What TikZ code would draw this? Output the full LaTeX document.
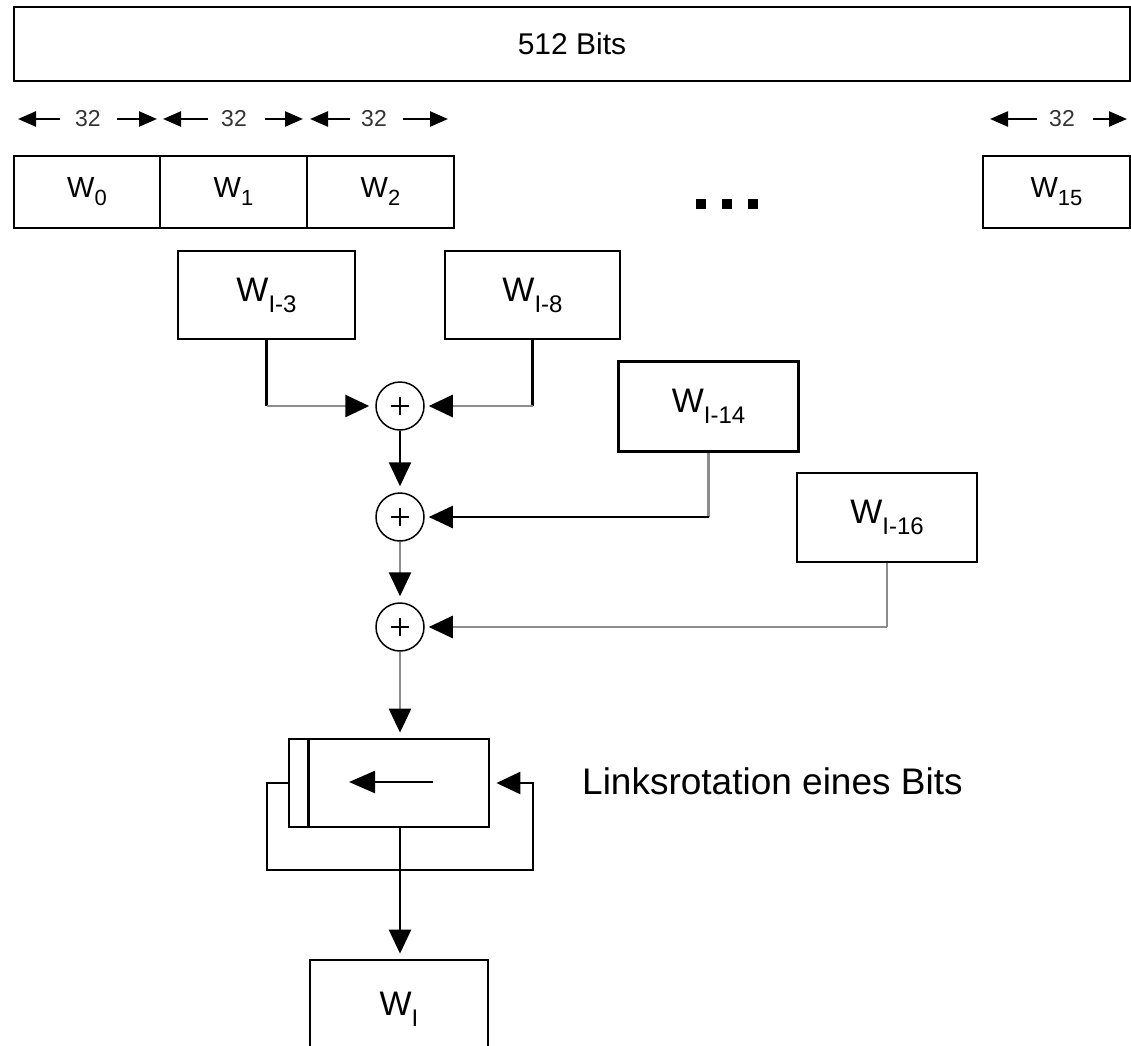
\documentclass[tikz,border=0pt]{standalone}
\usepackage{fontspec}
\setmainfont{Liberation Sans}
\usetikzlibrary{arrows.meta,calc}
\definecolor{lg}{gray}{0.55}
\newcommand{\Wsub}[4]{{\fontsize{#1}{#1}\selectfont W}\raisebox{-#4pt}{\fontsize{#2}{#2}\selectfont #3}}
\begin{document}
\begin{tikzpicture}[x=1pt,y=-1pt,
  box/.style={draw, line width=2.8pt, inner sep=0pt},
  bl/.style={line width=2.5pt, draw=black},
  gr/.style={line width=2.8pt, draw=lg},
  tip/.style={-{Triangle[length=24pt,width=22pt,color=black]}, shorten >=6pt},
  dim/.style={line width=2.4pt, -{Triangle[length=18pt,width=15pt]}},
  xorn/.style={draw, circle, line width=1.5pt, minimum size=48pt, inner sep=0pt,
    path picture={\draw[line width=2pt] (path picture bounding box.center) +(-9,0) -- +(9,0) +(0,-9) -- +(0,9);}},
  numtext/.style={inner sep=0pt, text=black!80, font=\fontsize{23}{23}\selectfont}
]
\useasboundingbox (0,0) rectangle (1131,1045);

% top box
\node[box, minimum width=1116pt, minimum height=74pt] (top) at (572,44) {\fontsize{30}{30}\selectfont 512 Bits};

% dimension arrows
\foreach \n/\a/\b/\c/\d/\e in {1/18/60/88/117/157, 2/163/208/234/265/303, 3/310/350/374/403/448, 4/990/1037/1062/1093/1127}{
  \coordinate (L\n) at (\a,119);
  \coordinate (La\n) at (\b,119);
  \coordinate (Ra\n) at (\d,119);
  \coordinate (R\n) at (\e,119);
  \node[numtext] (t\n) at (\c,119) {32};
  \draw[dim] (La\n) -- (L\n);
  \draw[dim] (Ra\n) -- (R\n);
}

% word boxes
\node[box, minimum width=146pt, minimum height=72pt] (w0) at (87,192) {\Wsub{29}{22}{0}{8}};
\node[box, minimum width=147pt, minimum height=72pt] (w1) at (233.5,192) {\Wsub{29}{22}{1}{8}};
\node[box, minimum width=147pt, minimum height=72pt] (w2) at (380.5,192) {\Wsub{29}{22}{2}{8}};
\node[box, minimum width=147pt, minimum height=72pt] (w15) at (1056.5,192) {\Wsub{29}{22}{15}{8}};

% dots
\fill (696,199) rectangle (706,209);
\fill (722,199) rectangle (732,209);
\fill (748,199) rectangle (758,209);

% input words
\node[box, minimum width=177pt, minimum height=88pt] (w3) at (266.5,295) {\Wsub{34}{24}{I-3}{11}};
\node[box, minimum width=175pt, minimum height=88pt] (w8) at (532.5,295) {\Wsub{34}{24}{I-8}{11}};
\node[box, minimum width=180pt, minimum height=90pt] (w14) at (708.5,406.5) {\Wsub{34}{24}{I-14}{11}};
\node[box, minimum width=180pt, minimum height=89pt] (w16) at (887,517.5) {\Wsub{34}{24}{I-16}{11}};

% xor nodes
\node[xorn] (p1) at (400,406) {};
\node[xorn] (p2) at (400,517) {};
\node[xorn] (p3) at (400,627) {};

% rotation box
\node[box, minimum width=200pt, minimum height=88pt] (rot) at (389,783) {};
\draw[line width=2.8pt] ([xshift=21pt]rot.north west) -- ([xshift=21pt]rot.south west);
\coordinate (ia) at ($(rot.center)+(44,-1)$);
\coordinate (ib) at ($(rot.center)+(-40,-1)$);
\draw[bl, -{Triangle[length=26pt,width=22pt]}] (ia) -- (ib);

% output word
\node[box, minimum width=178pt, minimum height=100pt] (wi) at (399,1010) {\raisebox{13pt}{\Wsub{34}{24}{I}{11}}};

% label
\node[anchor=west, inner sep=0pt] (lbl) at (582,781) {\fontsize{37}{37}\selectfont Linksrotation eines Bits};

% connectors
\draw[bl] (w3.south) -- (w3.south |- p1.west) coordinate (c3);
\draw[gr, tip] (c3) -- (p1.west);
\draw[bl] (w8.south) -- (w8.south |- p1.east) coordinate (c8);
\draw[gr, tip, shorten >=4pt] (c8) -- (p1.east);
\draw[gr] (w14.south) -- (w14.south |- p2.east) coordinate (c14);
\draw[bl, tip, shorten >=4pt] (c14) -- (p2.east);
\draw[gr] (w16.south) -- (w16.south |- p3.east) coordinate (c16);
\draw[gr, tip, shorten >=4pt] (c16) -- (p3.east);

\draw[bl, tip] (p1.south) -- (p2.north);
\draw[gr, tip] (p2.south) -- (p3.north);
\draw[gr, tip, shorten >=5pt] (p3.south) -- (p3 |- rot.north);

\coordinate (fbL) at (267,870);
\coordinate (fbR) at (533,870);
\draw[bl, tip, shorten >=5pt] (rot.south -| p3) -- (wi.north -| p3);
\draw[bl, tip] (rot.west) -- (fbL |- rot.west) -- (fbL) -- (fbR) -- (fbR |- rot.east) -- (rot.east);
\end{tikzpicture}
\end{document}
